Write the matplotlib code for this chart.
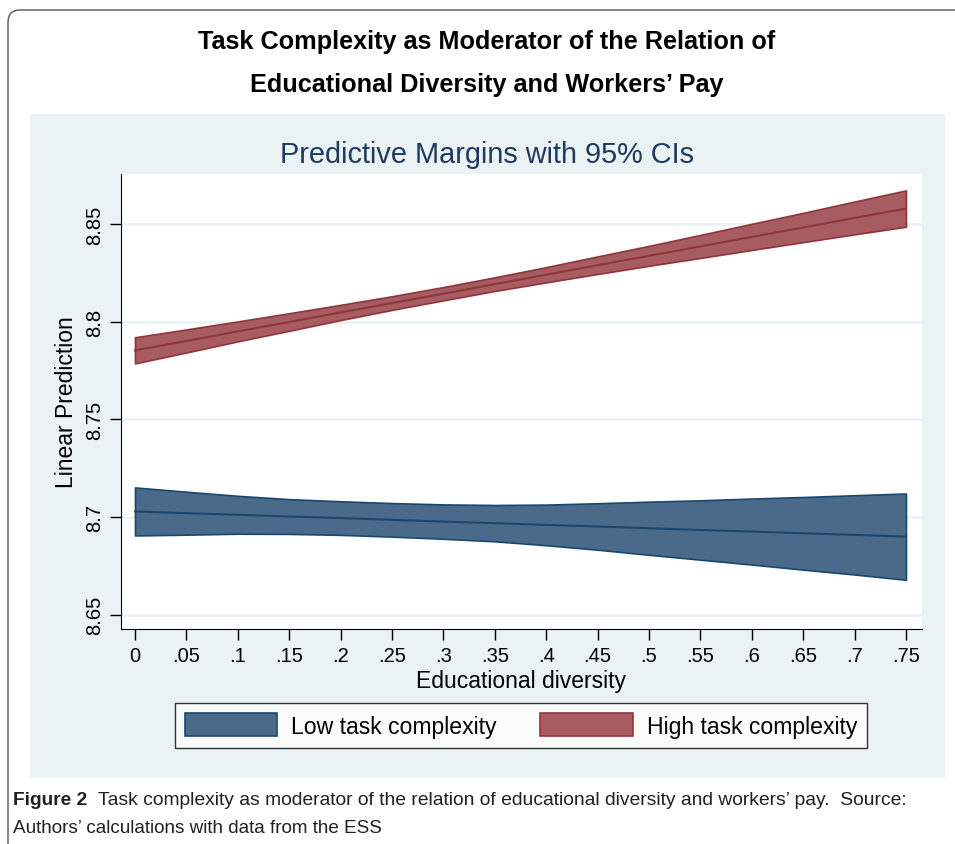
import matplotlib.pyplot as plt
from matplotlib.patches import Rectangle, FancyBboxPatch, Patch
import numpy as np

plt.rcParams['font.family'] = ['Liberation Sans', 'DejaVu Sans']

# educational diversity grid
x = [0, .05, .1, .15, .2, .25, .3, .35, .4, .45, .5, .55, .6, .65, .7, .75]
x_labels = ["0", ".05", ".1", ".15", ".2", ".25", ".3", ".35", ".4", ".45",
            ".5", ".55", ".6", ".65", ".7", ".75"]

# low task complexity: margin and 95% CI
low_mean = [8.7029, 8.7020, 8.7012, 8.7003, 8.6995, 8.6986, 8.6977, 8.6969,
            8.6960, 8.6952, 8.6943, 8.6934, 8.6926, 8.6917, 8.6909, 8.6900]
low_upper = [8.7152, 8.7130, 8.7109, 8.7092, 8.7081, 8.7072, 8.7065, 8.7062,
             8.7064, 8.7071, 8.7079, 8.7086, 8.7095, 8.7103, 8.7112, 8.7121]
low_lower = [8.6906, 8.6910, 8.6915, 8.6914, 8.6909, 8.6900, 8.6889, 8.6876,
             8.6856, 8.6833, 8.6807, 8.6782, 8.6757, 8.6731, 8.6706, 8.6679]

# high task complexity
high_mean = [8.7854, 8.7902, 8.7951, 8.7999, 8.8048, 8.8096, 8.8144, 8.8193,
             8.8241, 8.8290, 8.8338, 8.8386, 8.8435, 8.8483, 8.8532, 8.8580]
high_upper = [8.7921, 8.7961, 8.8002, 8.8044, 8.8087, 8.8131, 8.8178, 8.8228,
              8.8280, 8.8335, 8.8389, 8.8445, 8.8502, 8.8558, 8.8616, 8.8673]
high_lower = [8.7787, 8.7843, 8.7900, 8.7954, 8.8009, 8.8061, 8.8110, 8.8158,
              8.8202, 8.8245, 8.8287, 8.8327, 8.8368, 8.8408, 8.8448, 8.8487]

y_ticks = [8.65, 8.7, 8.75, 8.8, 8.85]
y_labels = ["8.65", "8.7", "8.75", "8.8", "8.85"]

blue_fill, blue_edge = "#4a6a8a", "#1a476f"
red_fill, red_edge = "#a65c60", "#90353b"
bg_col = "#eaf2f3"

W, H = 955, 845
fig = plt.figure(figsize=(W / 100, H / 100), dpi=100)

# decoration layer in pixel coords
deco = fig.add_axes([0, 0, 1, 1])
deco.set_xlim(0, W)
deco.set_ylim(H, 0)
deco.axis("off")
deco.add_patch(FancyBboxPatch((8, 11), 1100, 1000,
                              boxstyle="round,pad=0,rounding_size=12",
                              fc="white", ec="#555555", lw=1.0))
deco.add_patch(Rectangle((30, 115), 915, 664, fc=bg_col, ec="none"))
deco.text(487, 42, "Task Complexity as Moderator of the Relation of",
          ha="center", va="center", fontsize=18.2, fontweight="bold")
deco.text(487, 85, "Educational Diversity and Workers\u2019 Pay",
          ha="center", va="center", fontsize=18.2, fontweight="bold")
deco.text(487, 155, "Predictive Margins with 95% CIs", ha="center",
          va="center", fontsize=20.8, color="#1f3a60")
cap = deco.text(13, 801, "Figure 2", ha="left", va="center", fontsize=13.8,
                fontweight="bold", color="#231f20")
deco.annotate("Task complexity as moderator of the relation of educational "
              "diversity and workers\u2019 pay.  Source:", xy=(1, 0.5),
              xycoords=cap, xytext=(8, 0), textcoords="offset points",
              ha="left", va="center", fontsize=13.9, color="#231f20")
deco.text(13, 829, "Authors\u2019 calculations with data from the ESS", ha="left",
          va="center", fontsize=13.6, color="#231f20")

ax = fig.add_axes([120.7 / W, 1 - 630 / H, 801 / W, 455 / H])
ax.set_facecolor("white")

ax.fill_between(x, low_lower, low_upper, facecolor=blue_fill,
                edgecolor=blue_edge, lw=1.2, zorder=3)
ax.plot(x, low_mean, color=blue_edge, lw=1.5, zorder=4)
ax.fill_between(x, high_lower, high_upper, facecolor=red_fill,
                edgecolor=red_edge, lw=1.2, zorder=3)
ax.plot(x, high_mean, color=red_edge, lw=1.5, zorder=4)

ax.set_xlim(-0.0139, 0.7653)
ax.set_ylim(8.6427, 8.8757)
ax.set_xticks(x)
ax.set_xticklabels(x_labels)
ax.set_yticks(y_ticks)
ax.set_yticklabels(y_labels, rotation=90, va="center")
ax.tick_params(length=8, width=1, labelsize=14.5, pad=4)
for y in y_ticks:
    ax.axhline(y, color=bg_col, lw=1.8, zorder=1)
for s in ["top", "right"]:
    ax.spines[s].set_visible(False)
ax.set_xlabel("Educational diversity", fontsize=16.5, labelpad=3)
ax.set_ylabel("Linear Prediction", fontsize=16.5, labelpad=5)

handles = [Patch(facecolor=blue_fill, edgecolor=blue_edge, lw=1.2),
           Patch(facecolor=red_fill, edgecolor=red_edge, lw=1.2)]
leg = fig.legend(handles, ["Low task complexity", "High task complexity"],
                 loc="center", bbox_to_anchor=(521 / W, 1 - 726.5 / H), ncol=2,
                 fontsize=16.6, frameon=True, fancybox=False, handlelength=4.0,
                 handleheight=1.15, handletextpad=0.6, columnspacing=1.9,
                 borderpad=0.45, borderaxespad=0)
leg.get_frame().set_edgecolor("black")
leg.get_frame().set_linewidth(1.0)

fig.savefig("out.png", dpi=100)
